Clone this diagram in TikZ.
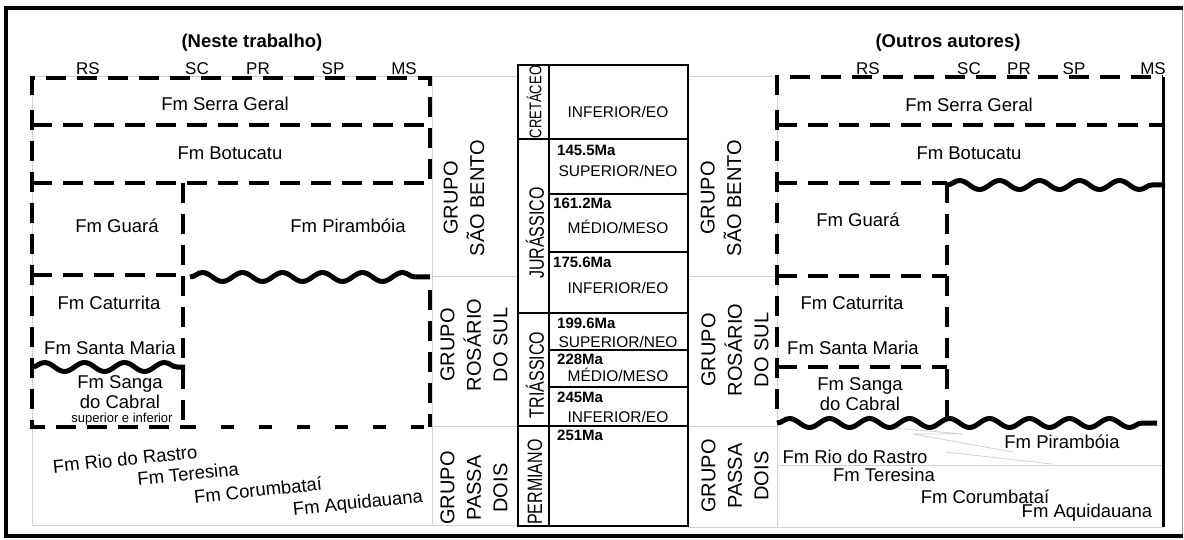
\documentclass[tikz,border=0pt]{standalone}
\usepackage{fontspec}
\setmainfont{Liberation Sans}
\usetikzlibrary{decorations.pathmorphing}
\begin{document}
\begin{tikzpicture}[x=1pt,y=-1pt,
  grid/.style={draw=black!18,line width=0.8pt},
  dsh/.style={line width=3.2pt,dash pattern=on 20pt off 11pt},
  dshb/.style={line width=3.2pt,dash pattern=on 13pt off 25pt},
  wavy/.style={line width=5pt,decorate,decoration={snake,amplitude=4.5pt,segment length=40pt}},
  fm/.style={font=\fontsize{18.5}{21}\selectfont,inner sep=0pt},
  small/.style={font=\fontsize{13}{14}\selectfont,inner sep=0pt},
  ttl/.style={font=\bfseries\fontsize{18.5}{21}\selectfont,inner sep=0pt},
  st/.style={font=\fontsize{17}{18}\selectfont,inner sep=0pt},
  grp/.style={font=\fontsize{20}{26.5}\selectfont,rotate=90,align=center,inner sep=0pt},
  per/.style={rotate=90,inner sep=0pt},
  stage/.style={font=\fontsize{15.5}{17}\selectfont,inner sep=0pt},
  ma/.style={font=\bfseries\fontsize{15}{16}\selectfont,inner sep=0pt,anchor=west},
  box/.style={draw,line width=2pt}
]
\useasboundingbox (0,0) rectangle (1184,540);
\fill[white] (0,0) rectangle (1184,540);
% outer frame
\draw[line width=1pt,black!40] (1182,8) -- (1182,536);
\draw[line width=4pt] (1183,8) -- (6,8) -- (6,536) -- (1183,536);

% gray grid
\draw[grid] (32,76) rectangle (432,525);
\draw[grid] (432,76) -- (518,76) (432,276) -- (518,276) (432,426) -- (518,426) (432,525) -- (518,525);
\draw[grid] (688,76) -- (777,76) (688,276) -- (777,276) (688,426) -- (777,426) (688,527) -- (777,527);
\draw[grid] (777,76) -- (777,527) -- (1163,527);
\draw[grid] (777,465) -- (1163,465);
\draw[grid] (893,428) -- (963,434) (913,434) -- (1013,452) (945,452) -- (1052,464) (913,434) -- (963,434);

% ---------- left panel ----------
\node[ttl] (t1) at (252,43) {(Neste trabalho)};
\node[st] (lrs) at (88,69) {RS};
\node[st] (lsc) at (197,69) {SC};
\node[st] (lpr) at (258,69) {PR};
\node[st] (lsp) at (333,69) {SP};
\node[st] (lms) at (404,69) {MS};

\draw[dsh] (32,95) -- (32,78) -- (430,78) -- (430,183);
\draw[dsh] (32,125) -- (430,125);
\draw[dsh] (32,183) -- (430,183);
\draw[dsh] (32,110) -- (32,427) -- (183,427);
\draw[dshb] (183,427) -- (430,427);
\draw[dsh] (183,183) -- (183,427);
\draw[dsh] (32,275) -- (183,275);
\draw[dsh] (430,290) -- (430,427);
\draw[wavy] (190,277) -- (430,277);
\draw[wavy] (32,367) -- (185,367);

\node[fm] (lsg) at (225,104) {Fm Serra Geral};
\node[fm] (lbt) at (230,153) {Fm Botucatu};
\node[fm] (lgu) at (117,226) {Fm Guará};
\node[fm] (lpi) at (348,226) {Fm Pirambóia};
\node[fm] (lca) at (109,303) {Fm Caturrita};
\node[fm] (lsm) at (110,348) {Fm Santa Maria};
\node[fm,align=center,font=\fontsize{18.5}{19.5}\selectfont] (lsc2) at (120,392) {Fm Sanga\\do Cabral};
\node[small] (lsi) at (122,419) {superior e inferior};
\node[fm,rotate=6] (lrr) at (125,459) {Fm Rio do Rastro};
\node[fm,rotate=6] (lte) at (188,474) {Fm Teresina};
\node[fm,rotate=6] (lco) at (258,490) {Fm Corumbataí};
\node[fm,rotate=6] (laq) at (358,504) {Fm Aquidauana};

% left groups
\node[grp] (g1) at (464,198) {GRUPO\\SÃO BENTO};
\node[grp] (g2) at (474,345) {GRUPO\\ROSÁRIO\\DO SUL};
\node[grp] (g3) at (474,488) {GRUPO\\PASSA\\DOIS};

% ---------- center chronostratigraphy ----------
\draw[box] (518,65) rectangle (688,526);
\draw[box] (549,65) -- (549,526);
\draw[box] (518,139) -- (688,139);
\draw[box] (549,194) -- (688,194);
\draw[box] (549,252) -- (688,252);
\draw[box] (518,313) -- (688,313);
\draw[box] (549,350) -- (688,350);
\draw[box] (549,387) -- (688,387);
\draw[box] (518,426) -- (688,426);

\node[per] (pc) at (534,102) {\fontsize{13}{14}\selectfont\scalebox{1}[1.3]{CRETÁCEO}};
\node[per] (pj) at (535,233) {\fontsize{16}{17}\selectfont\scalebox{1}[1.3]{JURÁSSICO}};
\node[per] (pt) at (535,375) {\fontsize{16}{17}\selectfont\scalebox{1}[1.3]{TRIÁSSICO}};
\node[per] (pp) at (535,482) {\fontsize{16}{17}\selectfont\scalebox{1}[1.3]{PERMIANO}};

\node[stage] (s1) at (618,112) {INFERIOR/EO};
\node[ma] (m1) at (557,150) {145.5Ma};
\node[stage] (s2) at (618,171) {SUPERIOR/NEO};
\node[ma] (m2) at (553,203) {161.2Ma};
\node[stage] (s3) at (618,227) {MÉDIO/MESO};
\node[ma] (m3) at (553,262) {175.6Ma};
\node[stage] (s4) at (618,288) {INFERIOR/EO};
\node[ma] (m4) at (557,323) {199.6Ma};
\node[stage] (s5) at (618,342) {SUPERIOR/NEO};
\node[ma] (m5) at (557,359) {228Ma};
\node[stage] (s6) at (618,375) {MÉDIO/MESO};
\node[ma] (m6) at (557,397) {245Ma};
\node[stage] (s7) at (618,417) {INFERIOR/EO};
\node[ma] (m7) at (557,435) {251Ma};

% right groups
\node[grp] (g4) at (721,198) {GRUPO\\SÃO BENTO};
\node[grp] (g5) at (735,350) {GRUPO\\ROSÁRIO\\DO SUL};
\node[grp] (g6) at (735,476) {GRUPO\\PASSA\\DOIS};

% ---------- right panel ----------
\node[ttl] (t2) at (948,43) {(Outros autores)};
\node[st] (rrs) at (868,69) {RS};
\node[st] (rsc) at (969,69) {SC};
\node[st] (rpr) at (1019,69) {PR};
\node[st] (rsp) at (1074,69) {SP};
\node[st] (rms) at (1153,69) {MS};

\draw[line width=3pt] (1163,77) -- (1163,527);
\draw[dsh] (777,95) -- (777,77) -- (1163,77);
\draw[dsh] (777,125) -- (1163,125);
\draw[dsh] (777,183) -- (947,183);
\draw[dsh] (777,110) -- (777,420);
\draw[dsh] (947,183) -- (947,423);
\draw[dsh] (777,276) -- (947,276);
\draw[dsh] (777,367) -- (947,367);
\draw[wavy] (947,185) -- (1165,185);
\draw[wavy] (777,423) -- (1157,423);

\node[fm] (rsg) at (969,105) {Fm Serra Geral};
\node[fm] (rbt) at (969,153) {Fm Botucatu};
\node[fm] (rgu) at (858,220) {Fm Guará};
\node[fm] (rca) at (852,303) {Fm Caturrita};
\node[fm] (rsm) at (853,348) {Fm Santa Maria};
\node[fm,align=center,font=\fontsize{18.5}{19.5}\selectfont] (rsc2) at (860,394) {Fm Sanga\\do Cabral};
\node[fm] (rpi) at (1062,442) {Fm Pirambóia};
\node[fm] (rrr) at (855,457) {Fm Rio do Rastro};
\node[fm] (rte) at (884,475) {Fm Teresina};
\node[fm] (rco) at (985,497) {Fm Corumbataí};
\node[fm] (raq) at (1087,513) {Fm Aquidauana};
\end{tikzpicture}
\end{document}
